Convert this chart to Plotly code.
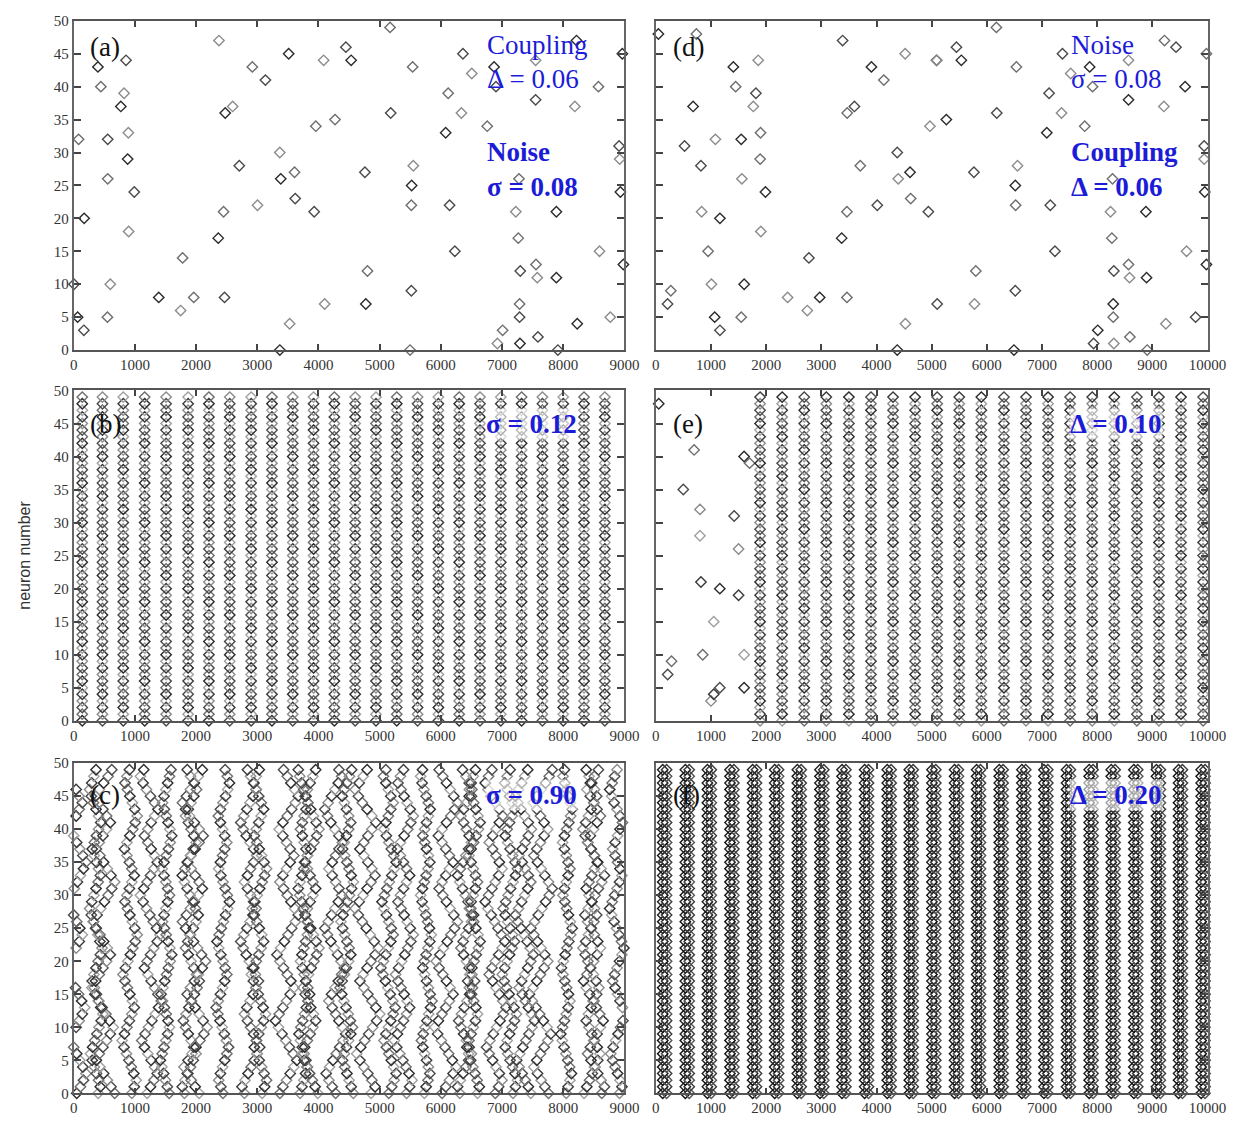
import plotly.graph_objects as go

W, H = 1254, 1127

# ---------------- data ----------------
# panel (a): sparse raster (time, neuron)
a_t = [396, 444, 855, 823, 770, 80, 556, 893, 882, 556, 990, 2374, 3513, 2919, 3133, 2598, 2476,
       3957, 2706, 3368, 3384, 3609, 3620, 3004, 171, 2449, 3930, 898, 2363, 1780, 5, 598, 1390,
       1962, 2465, 1748, 64, 551, 166, 3529, 3369, 5170, 4448, 4085, 4534, 5539, 6361, 6506, 6870,
       6120, 6901, 7549, 8217, 8576, 7549, 8190, 8966, 4271, 5181, 6336, 6079, 6758, 4759, 5550,
       5523, 7277, 8913, 8923, 8934, 5518, 6143, 7225, 7888, 7266, 6229, 8593, 8983, 7555, 7298,
       7576, 7888, 4801, 5518, 4101, 4774, 7287, 7287, 8769, 8229, 7010, 7587, 6924, 7293, 5497, 7913]
a_n = [43, 40, 44, 39, 37, 32, 32, 33, 29, 26, 24, 47, 45, 43, 41, 37, 36,
       34, 28, 30, 26, 27, 23, 22, 20, 21, 21, 18, 17, 14, 10, 10, 8,
       8, 8, 6, 5, 5, 3, 4, 0, 49, 46, 44, 44, 43, 45, 42, 43,
       39, 40, 44, 47, 40, 38, 37, 45, 35, 36, 36, 33, 34, 27, 28,
       25, 26, 31, 29, 24, 22, 22, 21, 21, 17, 15, 15, 13, 13, 12,
       11, 11, 12, 9, 7, 7, 7, 5, 5, 4, 3, 2, 1, 1, 0, 0]

# panel (d): sparse raster (time, neuron)
d_t = [47, 735, 3386, 1856, 1405, 1447, 1814, 1767, 676, 3469, 3600, 4519, 3908, 4133, 5088, 4969,
       5266, 1898, 521, 1080, 1548, 1891, 818, 1560, 1987, 3706, 4376, 4394, 4608, 4620, 4014,
       830, 1162, 3464, 4940, 1904, 3369, 948, 2775, 1008, 1601, 272, 213, 2389, 2971, 3464, 5100,
       2746, 1067, 1548, 1162, 4524, 4376,
       6173, 5449, 5094, 5538, 6535, 7371, 7520, 7864, 7917, 7128, 8568, 8568, 9220, 9429, 9209,
       9594, 9980, 6180, 7354, 7087, 7774, 5766, 6556, 6516, 8278, 9939, 9939, 9950, 6522, 7150,
       8242, 8883, 8267, 7235, 9620, 9980, 8568, 8302, 8587, 8895, 5800, 6516, 5776, 8291, 8291,
       9784, 9245, 8011, 8593, 7935, 8302, 6492, 8907]
d_n = [48, 48, 47, 44, 43, 40, 39, 37, 37, 36, 37, 45, 43, 41, 44, 34,
       35, 33, 31, 32, 32, 29, 28, 26, 24, 28, 30, 26, 27, 23, 22,
       21, 20, 21, 21, 18, 17, 15, 14, 10, 10, 9, 7, 8, 8, 8, 7,
       6, 5, 5, 3, 4, 0,
       49, 46, 44, 44, 43, 45, 42, 43, 40, 39, 44, 38, 47, 46, 37,
       40, 45, 36, 36, 33, 34, 27, 28, 25, 26, 31, 29, 24, 22, 22,
       21, 21, 17, 15, 15, 13, 13, 12, 11, 11, 12, 9, 7, 7, 5,
       5, 4, 3, 2, 1, 1, 0, 0]

neurons = list(range(50))

# panel (b): burst times (every neuron fires in each burst)
b_bursts = [140, 470, 810, 1160, 1510, 1870, 2210, 2550, 2900, 3240, 3580, 3920, 4260, 4600,
            4940, 5280, 5620, 5960, 6300, 6640, 6980, 7320, 7660, 8000, 8340, 8680]

# panel (e): initial sparse spikes then burst times
e_sparse_t = [53, 694, 498, 800, 818, 1050, 1160, 850, 1160, 1000, 1050, 800, 1600, 1700,
              1420, 1500, 1500, 1600, 1600, 285, 215]
e_sparse_n = [48, 41, 35, 32, 21, 15, 20, 10, 5, 3, 4, 28, 40, 39,
              31, 26, 19, 10, 5, 9, 7]
e_bursts = [1890, 2290, 2690, 3090, 3500, 3900, 4300, 4700, 5100, 5500, 5900, 6310, 6710,
            7110, 7510, 7910, 8310, 8720, 9120, 9520, 9920]

# panel (f): burst times
f_bursts = [160, 570, 970, 1380, 1790, 2190, 2600, 3010, 3410, 3820, 4230, 4630, 5040, 5450,
            5850, 6260, 6670, 7070, 7480, 7890, 8290, 8700, 9110, 9510, 9920]

# panel (c): travelling waves; time at which each wave reaches neuron 0 (read off the bottom row),
# direction, phase and size of each wave's per-neuron delay profile
c_waves = [50, 400, 670, 950, 1200, 1560, 1810, 2050, 2440, 2790, 3080, 3370, 3700, 3990,
           4280, 4570, 4860, 5150, 5440, 5730, 6020, 6310, 6600, 6890, 7180, 7470, 7760, 8050,
           8340, 8630, 8920]
c_dir = [1, -1, 1, 1, -1, 1, -1, -1, 1, -1, 1, 1, -1, 1, -1, 1, -1, 1, 1, -1, 1, -1, 1, -1, 1,
         -1, 1, 1, -1, 1, -1]
c_shift = [0, 7, 3, 11, 5, 14, 2, 9, 6, 12, 1, 8, 4, 13, 10, 3, 7, 0, 11, 5, 9, 2, 12, 6, 1, 8,
           4, 10, 13, 2, 7]
c_amp = [1.0, 0.7, 1.2, 0.8, 1.1, 0.6, 0.9, 1.3, 0.7, 1.0, 0.8, 1.2, 0.6, 0.9, 1.1, 0.7, 1.3,
         0.8, 1.0, 0.6, 1.2, 0.9, 0.7, 1.1, 0.8, 1.0, 1.2, 0.6, 0.9, 1.1, 0.8]
c_profile = [0, 60, 110, 150, 100, 50, 0, -50, -100, -60, -10, 40, 90, 130, 80, 30, -20, -70,
             -120, -160, -110, -60, -10, 40, 90, 50, 0, -50, -100, -140, -90, -40, 10, 60, 110,
             150, 100, 50, 0, -50, -100, -60, -10, 40, 90, 40, -10, -60, -110, -60]

# ---------------- figure ----------------
GRAYS = ['#2b2b2b', '#6e6e6e', '#4a4a4a', '#8c8c8c', '#3a3a3a', '#a0a0a0']
DARKS = ['#111111', '#3a3a3a', '#222222', '#555555']


def px(x):
    return x / W


def py(y):
    return 1 - y / H


fig = go.Figure()

panels = {
    'a': dict(x=(71, 632), y=(13, 347), xmax=9000, labels=True),
    'd': dict(x=(664, 1226), y=(13, 347), xmax=10000, labels=False),
    'b': dict(x=(71, 632), y=(388, 723), xmax=9000, labels=True),
    'e': dict(x=(664, 1226), y=(388, 723), xmax=10000, labels=False),
    'c': dict(x=(71, 632), y=(766, 1101), xmax=9000, labels=True),
    'f': dict(x=(664, 1226), y=(766, 1101), xmax=10000, labels=False),
}
order = ['a', 'd', 'b', 'e', 'c', 'f']
axis_id = {}
TF = dict(family='Liberation Serif', size=15, color='#333')
for i, k in enumerate(order, start=1):
    p = panels[k]
    xs = '' if i == 1 else str(i)
    axis_id[k] = ('x' + xs, 'y' + xs)
    xt = list(range(0, p['xmax'] + 1, 1000))
    fig.layout['xaxis' + xs] = dict(
        domain=[px(p['x'][0]), px(p['x'][1])], anchor='y' + xs, range=[0, p['xmax']],
        tickvals=xt, ticktext=[str(v) for v in xt], ticks='inside', ticklen=6, tickwidth=1.5,
        tickcolor='#444', showline=True, linecolor='#555', linewidth=1.6, mirror='ticks',
        showgrid=False, zeroline=False, tickfont=TF)
    fig.layout['yaxis' + xs] = dict(
        domain=[py(p['y'][1]), py(p['y'][0])], anchor='x' + xs, range=[0, 50],
        tickvals=list(range(0, 51, 5)), ticks='inside', ticklen=7, tickwidth=1.5,
        tickcolor='#444', showline=True, linecolor='#666', linewidth=2, mirror='ticks',
        showgrid=False, zeroline=False, showticklabels=p['labels'], tickfont=TF)


def add(k, t, n, size=8, lw=1.4, colors=None, pal=GRAYS):
    xa, ya = axis_id[k]
    if colors is None:
        colors = [pal[(i * 7) % len(pal)] for i in range(len(t))]
    fig.add_trace(go.Scatter(
        x=t, y=n, mode='markers', xaxis=xa, yaxis=ya, cliponaxis=False, showlegend=False,
        hoverinfo='skip',
        marker=dict(symbol='diamond-open', size=size, color=colors, line=dict(width=lw))))


add('a', a_t, a_n, colors=[GRAYS[i % 4] for i in range(len(a_t))])
add('d', d_t, d_n, colors=[GRAYS[i % 4] for i in range(len(d_t))])

bt, bn = [], []
for t in b_bursts:
    for n in neurons:
        bt.append(t)
        bn.append(n)
add('b', bt, bn)

et, en = list(e_sparse_t), list(e_sparse_n)
for t in e_bursts:
    for n in neurons:
        et.append(t)
        en.append(n)
add('e', et, en)

ft, fn = [], []
for t in f_bursts:
    for n in neurons:
        ft.append(t - 35)
        fn.append(n)
        ft.append(t + 35)
        fn.append(n)
add('f', ft, fn, pal=DARKS)

ct, cn = [], []
for w, d, s, a in zip(c_waves, c_dir, c_shift, c_amp):
    base = c_profile[s % 50]
    for n in neurons:
        v = w + d * a * (c_profile[(n + s) % 50] - base)
        if 0 <= v <= 9000:
            ct.append(v)
            cn.append(n)
add('c', ct, cn)

# ---------------- annotations ----------------
BLUE = '#1c1cd8'
ann = []


def txt(x, y, s, size=27, color=BLUE, bold=False, bg=None):
    d = dict(x=px(x), y=py(y), xref='paper', yref='paper', xanchor='left', yanchor='middle',
             text=('<b>%s</b>' % s) if bold else s, showarrow=False,
             font=dict(family='Liberation Serif', size=size, color=color))
    if bg:
        d['bgcolor'] = bg
        d['borderpad'] = 0
    ann.append(d)


for lab, (x, y) in {'(a)': (86, 40), '(b)': (86, 422), '(c)': (86, 798),
                    '(d)': (679, 40), '(e)': (679, 422), '(f)': (679, 798)}.items():
    txt(x, y, lab, size=27, color='#111')

txt(490, 38, 'Coupling')
txt(490, 72, 'Δ = 0.06')
txt(490, 146, 'Noise', bold=True)
txt(490, 182, 'σ = 0.08', bold=True)
txt(1085, 38, 'Noise')
txt(1085, 72, 'σ = 0.08')
txt(1085, 146, 'Coupling', bold=True)
txt(1085, 182, 'Δ = 0.06', bold=True)
WBG = 'rgba(255,255,255,0.6)'
txt(490, 422, 'σ = 0.12', bold=True, bg=WBG)
txt(1085, 422, 'Δ = 0.10', bold=True, bg=WBG)
txt(490, 798, 'σ = 0.90', bold=True, bg=WBG)
txt(1085, 798, 'Δ = 0.20', bold=True, bg=WBG)

ann.append(dict(x=px(20), y=py(555), xref='paper', yref='paper', text='neuron number',
                textangle=-90, showarrow=False, xanchor='center', yanchor='middle',
                font=dict(family='Liberation Sans', size=16, color='#333')))

fig.update_layout(width=W, height=H, margin=dict(l=0, r=0, t=0, b=0),
                  paper_bgcolor='white', plot_bgcolor='white', annotations=ann)

fig.write_html('out.html')
